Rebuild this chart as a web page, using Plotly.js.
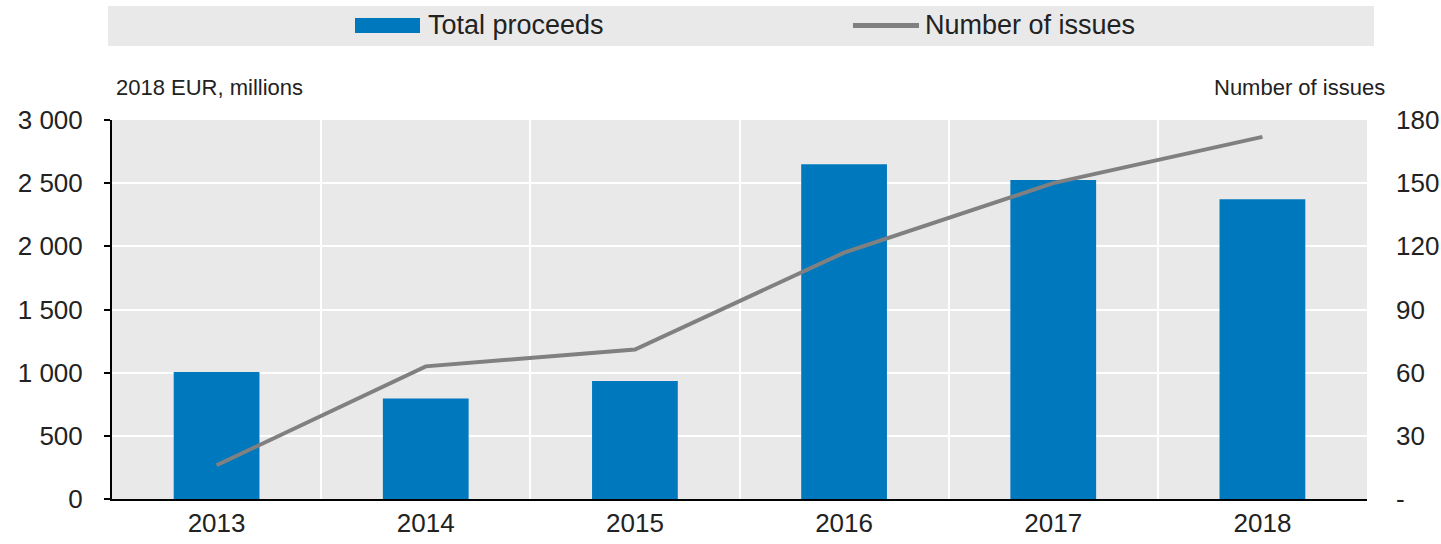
<!DOCTYPE html>
<html>
<head>
<meta charset="utf-8">
<script src="https://cdn.plot.ly/plotly-3.0.1.min.js"></script>
<style>
html,body{margin:0;padding:0;background:#fff;}
#chart{width:1441px;height:544px;}
</style>
</head>
<body>
<div id="chart"></div>
<script>
const years = ['2013', '2014', '2015', '2016', '2017', '2018'];
const totalProceeds = [1005, 795, 934, 2650, 2526, 2373];
const numberOfIssues = [16, 63, 71, 117, 150, 172];
const leftTickVals = [0, 500, 1000, 1500, 2000, 2500, 3000];
const leftTickText = ['0', '500', '1 000', '1 500', '2 000', '2 500', '3 000'];
const rightTickVals = [0, 30, 60, 90, 120, 150, 180];
const rightTickText = ['-', '30', '60', '90', '120', '150', '180'];
const seriesNames = ['Total proceeds', 'Number of issues'];

const FONT = 'Liberation Sans, Arial, sans-serif';
const TXT = '#222222';
const BLUE = '#0078BE';
const GREY = '#808080';

const traces = [
  {
    type: 'bar',
    name: seriesNames[0],
    x: years,
    y: totalProceeds,
    marker: {color: BLUE, line: {width: 0}},
    yaxis: 'y',
    showlegend: false
  },
  {
    type: 'scatter',
    mode: 'lines',
    name: seriesNames[1],
    x: years,
    y: numberOfIssues,
    line: {color: GREY, width: 4},
    yaxis: 'y2',
    showlegend: false
  }
];

// helpers: pixel -> paper coordinates (plot area 112..1367 x, 120..499 y)
const px = v => (v - 112) / 1255;
const py = v => (499 - v) / 379;

const layout = {
  width: 1441,
  height: 544,
  margin: {l: 112, r: 74, t: 120, b: 45, pad: 0},
  paper_bgcolor: '#ffffff',
  plot_bgcolor: '#E9E9E9',
  font: {family: FONT, color: TXT, size: 26},
  bargap: 0.59,
  showlegend: false,
  xaxis: {
    type: 'category',
    tickson: 'boundaries',
    showgrid: true,
    gridcolor: '#ffffff',
    gridwidth: 2,
    showline: true,
    linecolor: '#000000',
    linewidth: 2,
    ticks: '',
    tickfont: {family: FONT, size: 26, color: TXT},
    fixedrange: true
  },
  yaxis: {
    range: [0, 3000],
    tickvals: leftTickVals,
    ticktext: leftTickText,
    showgrid: true,
    gridcolor: '#ffffff',
    gridwidth: 2,
    zeroline: false,
    showline: true,
    linecolor: '#000000',
    linewidth: 2,
    ticks: 'outside',
    ticklen: 6,
    tickwidth: 2,
    tickcolor: '#000000',
    ticklabelstandoff: 16,
    tickfont: {family: FONT, size: 26, color: TXT},
    fixedrange: true
  },
  yaxis2: {
    overlaying: 'y',
    side: 'right',
    range: [0, 180],
    tickvals: rightTickVals,
    ticktext: rightTickText,
    showgrid: false,
    zeroline: false,
    showline: false,
    ticks: '',
    ticklabelstandoff: 28,
    tickfont: {family: FONT, size: 26, color: TXT},
    fixedrange: true
  },
  shapes: [
    {
      type: 'rect', xref: 'paper', yref: 'paper',
      x0: px(108), x1: px(1374), y0: py(46), y1: py(6),
      fillcolor: '#E9E9E9', line: {width: 0}, layer: 'below'
    },
    {
      type: 'rect', xref: 'paper', yref: 'paper',
      x0: px(355), x1: px(420), y0: py(33), y1: py(18),
      fillcolor: BLUE, line: {width: 0}
    },
    {
      type: 'line', xref: 'paper', yref: 'paper',
      x0: px(853), x1: px(919), y0: py(25.5), y1: py(25.5),
      line: {color: GREY, width: 5}
    }
  ],
  annotations: [
    {
      text: seriesNames[0], xref: 'paper', yref: 'paper',
      x: px(426), y: py(25), xanchor: 'left', yanchor: 'middle',
      showarrow: false, font: {family: FONT, size: 27, color: TXT}
    },
    {
      text: seriesNames[1], xref: 'paper', yref: 'paper',
      x: px(923), y: py(25), xanchor: 'left', yanchor: 'middle',
      showarrow: false, font: {family: FONT, size: 27, color: TXT}
    },
    {
      text: '2018 EUR, millions', xref: 'paper', yref: 'paper',
      x: px(114), y: py(87), xanchor: 'left', yanchor: 'middle',
      showarrow: false, font: {family: FONT, size: 22, color: TXT}
    },
    {
      text: 'Number of issues', xref: 'paper', yref: 'paper',
      x: px(1387), y: py(87), xanchor: 'right', yanchor: 'middle',
      showarrow: false, font: {family: FONT, size: 22, color: TXT}
    }
  ]
};

Plotly.newPlot('chart', traces, layout, {displayModeBar: false, staticPlot: true});
</script>
</body>
</html>
